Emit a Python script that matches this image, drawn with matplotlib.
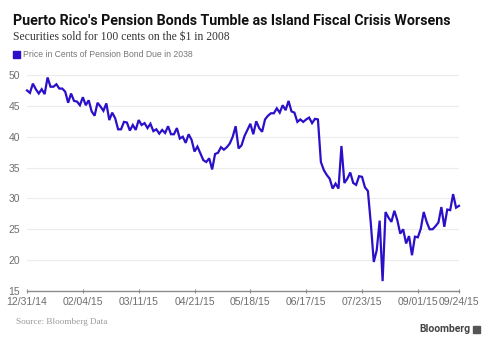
import matplotlib
matplotlib.use("Agg")
import matplotlib.pyplot as plt
from matplotlib.patches import Rectangle

title = "Puerto Rico's Pension Bonds Tumble as Island Fiscal Crisis Worsens"
subtitle = "Securities sold for 100 cents on the $1 in 2008"
legend_label = "Price in Cents of Pension Bond Due in 2038"
source = "Source: Bloomberg Data"

prices = [
    47.5, 47.1, 48.6, 47.7, 47.0, 47.7, 46.9, 49.6, 48.1, 48.1,
    48.5, 47.8, 47.8, 47.3, 45.5, 47.0, 45.8, 45.7, 45.1, 46.4,
    45.1, 45.9, 44.1, 43.4, 45.5, 44.9, 44.2, 45.4, 42.7, 43.9,
    43.0, 41.2, 41.2, 42.4, 42.3, 41.0, 41.9, 41.1, 42.7, 41.9,
    42.2, 41.4, 42.1, 40.9, 41.2, 40.5, 41.1, 40.6, 41.7, 40.4,
    40.4, 41.4, 39.7, 40.0, 39.0, 40.4, 39.5, 37.6, 38.4, 37.3,
    36.2, 35.9, 36.5, 34.7, 37.2, 37.4, 38.3, 37.9, 38.3, 38.9,
    40.0, 41.7, 38.1, 38.6, 40.1, 41.1,
    42.1, 40.4, 42.5, 41.4, 40.8, 42.8, 43.4, 43.8, 43.8, 44.6,
    43.9, 45.1, 44.3, 45.8, 44.1, 43.9, 42.4, 42.8, 42.4, 42.8,
    43.1, 42.2, 42.9, 42.8, 35.9, 34.6, 33.8, 33.2, 31.6, 32.4,
    31.6, 38.5, 32.5, 33.2, 34.2, 32.5, 32.2, 33.6, 33.5, 31.8,
    31.2,
    25.9, 19.7, 21.6, 26.4, 16.6, 27.8, 26.9, 26.2, 28.0, 26.5,
    24.3, 25.0, 22.7, 23.9, 20.8, 23.8, 23.7, 25.1, 27.8, 26.2,
    25.0, 25.0, 25.5, 26.1, 28.6, 25.4, 28.2, 28.1, 30.7, 28.5,
    28.8,
]
tick_labels = ["12/31/14", "02/04/15", "03/11/15", "04/21/15", "05/18/15",
               "06/17/15", "07/23/15", "09/01/15", "09/24/15"]
tick_index = [0, 19, 38, 57, 76, 95, 114, 133, 147]
y_ticks = [15, 20, 25, 30, 35, 40, 45, 50]

W, H = 488, 345
fig = plt.figure(figsize=(W / 100, H / 100), dpi=100)
fig.patch.set_facecolor("white")

left, right, top, bottom = 27, 459, 75, 291
ax = fig.add_axes([left / W, 1 - bottom / H, (right - left) / W, (bottom - top) / H])
ax.set_facecolor("white")

x = list(range(len(prices)))
line_color = "#2a10c8"
ax.plot(x, prices, color=line_color, lw=1.6, solid_joinstyle="miter", clip_on=False, zorder=3)

ax.set_xlim(0, len(prices) - 1)
ax.set_ylim(15, 50)
ax.set_yticks(y_ticks)
ax.set_yticklabels([str(v) for v in y_ticks])
ax.set_xticks(tick_index)
ax.set_xticklabels(tick_labels)

for s in ["top", "right", "left"]:
    ax.spines[s].set_visible(False)
ax.spines["bottom"].set_color("#8c8c8c")
ax.spines["bottom"].set_linewidth(1.0)

ax.grid(axis="y", color="#ececec", lw=0.8)
ax.set_axisbelow(True)
ax.tick_params(axis="y", length=0, pad=5, labelsize=7.5, labelcolor="#6e6e6e")
ax.tick_params(axis="x", length=3, direction="inout", color="#8c8c8c", pad=3,
               labelsize=7.5, labelcolor="#6e6e6e")
for lbl in ax.get_yticklabels() + ax.get_xticklabels():
    lbl.set_family("Liberation Sans")

fig.text(13 / W, 1 - 21 / H, title, fontsize=10.3, fontweight="bold",
         family="Roboto", color="#111111", va="center", ha="left")
fig.text(13 / W, 1 - 37 / H, subtitle, fontsize=8.4, family="Liberation Serif",
         color="#333333", va="center", ha="left")
fig.patches.append(Rectangle((13 / W, 1 - 58 / H), 7 / W, 7 / H,
                             transform=fig.transFigure, color=line_color))
fig.text(23 / W, 1 - 54.5 / H, legend_label, fontsize=6.2, family="Liberation Sans",
         color="#777777", va="center", ha="left")
fig.text(16 / W, 1 - 322 / H, source, fontsize=6.6, family="Liberation Serif",
         color="#999999", va="center", ha="left")
fig.text(470 / W, 1 - 329 / H, "Bloomberg", fontsize=7.5, fontweight="bold",
         family="Roboto", color="#444444", va="center", ha="right")
fig.patches.append(Rectangle((473 / W, 1 - 333 / H), 7 / W, 7 / H,
                             transform=fig.transFigure, color="#555555"))

fig.savefig("out.png", dpi=100, facecolor="white")
